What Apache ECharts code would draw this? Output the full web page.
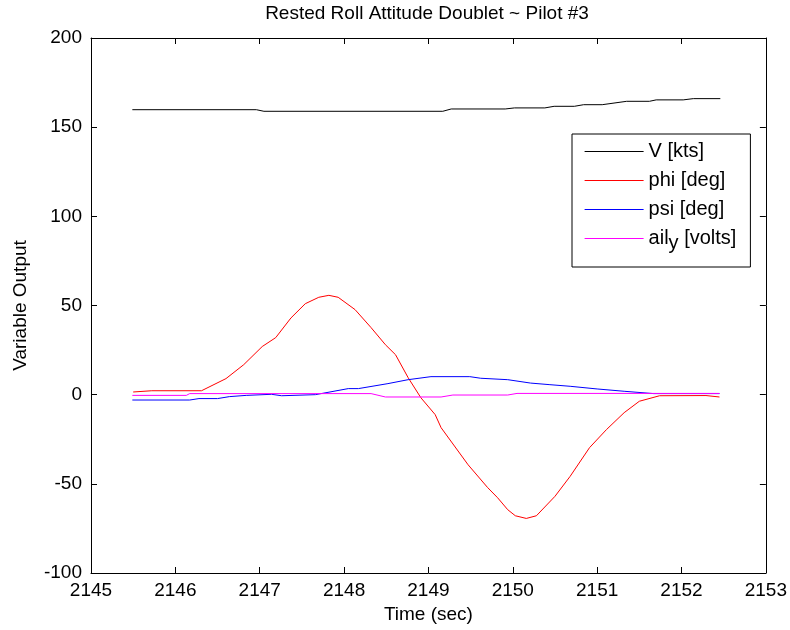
<!DOCTYPE html>
<html>
<head>
<meta charset="utf-8">
<script src="https://cdn.jsdelivr.net/npm/echarts@6/dist/echarts.min.js"></script>
<style>html,body{margin:0;padding:0;background:#fff}#c{width:790px;height:630px}</style>
</head>
<body>
<div id="c"></div>
<script>
var titleText = 'Rested Roll Attitude Doublet ~ Pilot #3';
var xName = 'Time (sec)';
var yName = 'Variable Output';
var xTicks = [2145, 2146, 2147, 2148, 2149, 2150, 2151, 2152, 2153];
var yTicks = [-100, -50, 0, 50, 100, 150, 200];
var seriesNames = ['V [kts]', 'phi [deg]', 'psi [deg]', 'ail_y [volts]'];

var vTime = [2145.49, 2146.96, 2147.05, 2149.17, 2149.27, 2149.91, 2150.02, 2150.38, 2150.49, 2150.73, 2150.84, 2151.06, 2151.35, 2151.62, 2151.70, 2152.02, 2152.14, 2152.46];
var vVal  = [159.8, 159.8, 158.9, 158.9, 160.2, 160.2, 160.8, 160.8, 161.7, 161.7, 162.6, 162.6, 164.5, 164.5, 165.3, 165.3, 166.0, 166.0];

var phiTime = [2145.50, 2145.72, 2146.31, 2146.60, 2146.81, 2147.03, 2147.19, 2147.37, 2147.54, 2147.70, 2147.82, 2147.93, 2148.13, 2148.32, 2148.49, 2148.61, 2148.76, 2148.91, 2149.08, 2149.15, 2149.47, 2149.70, 2149.82, 2149.94, 2150.03, 2150.16, 2150.28, 2150.50, 2150.68, 2150.91, 2151.11, 2151.32, 2151.50, 2151.74, 2152.29, 2152.45];
var phiVal  = [1.5, 2.2, 2.2, 9, 16.8, 27, 32, 43, 51, 54.6, 55.7, 54.6, 47.7, 37.6, 28, 22.4, 9.5, -1.7, -11.2, -18.5, -39.3, -52, -57.8, -64.5, -67.9, -69.4, -67.9, -57, -45.8, -29.7, -19.6, -10.1, -3.7, -0.6, -0.5, -1.3];

var psiTime = [2145.49, 2146.17, 2146.28, 2146.50, 2146.64, 2146.84, 2147.14, 2147.26, 2147.66, 2148.05, 2148.17, 2148.52, 2148.76, 2149.03, 2149.49, 2149.62, 2149.94, 2150.21, 2150.44, 2150.68, 2151.00, 2151.32, 2151.67, 2152.45];
var psiVal  = [-3, -3, -2.2, -2.2, -1.1, -0.4, 0.2, -0.6, 0, 3.4, 3.4, 6.2, 8.4, 10.1, 10.1, 9.2, 8.4, 6.5, 5.6, 4.7, 3.2, 1.9, 0.6, 0.6];

var ailTime = [2145.49, 2146.13, 2146.17, 2148.32, 2148.49, 2149.15, 2149.29, 2149.94, 2150.05, 2152.45];
var ailVal  = [-0.4, -0.4, 0.6, 0.6, -1.3, -1.3, -0.2, -0.2, 0.7, 0.7];

var colors = ['#000000', '#ff0000', '#0000ff', '#ff00ff'];

function zip(t, v) { return t.map(function (x, i) { return [x, v[i]]; }); }

var FONT = 'Liberation Sans, Arial, sans-serif';
var axisCommon = {
  axisLine: { show: true, onZero: false, lineStyle: { color: '#000', width: 1 } },
  axisTick: { show: true, inside: true, length: 6, lineStyle: { color: '#000' } },
  splitLine: { show: false }
};

function mkSeries(i, t, v) {
  return {
    name: seriesNames[i], type: 'line', data: zip(t, v), symbol: 'none',
    itemStyle: { color: colors[i] },
    lineStyle: { width: 1, color: colors[i] }
  };
}

var chart = echarts.init(document.getElementById('c'), null, { renderer: 'canvas' });
chart.setOption({
  animation: false,
  backgroundColor: '#fff',
  color: colors,
  title: {
    text: titleText, left: 427, top: 4, padding: 0, textAlign: 'center',
    textStyle: { fontFamily: FONT, fontSize: 19, fontWeight: 'normal', color: '#000' }
  },
  grid: { left: 91, right: 20, top: 38, bottom: 57, containLabel: false },
  legend: {
    orient: 'vertical', left: 572, top: 134,
    padding: [3, 14, 14, 12], itemGap: 0, itemWidth: 59, itemHeight: 13,
    backgroundColor: '#fff', borderColor: '#000', borderWidth: 1, borderRadius: 0,
    data: seriesNames.map(function (n, i) {
      return { name: n, itemStyle: { color: colors[i], opacity: 0, borderWidth: 0 },
               lineStyle: { width: 1.2, color: colors[i], opacity: 1 } };
    }),
    formatter: function (n) {
      if (n === 'ail_y [volts]') return '{a|ail}{s|y}{a| [volts]}';
      return n;
    },
    textStyle: {
      fontFamily: FONT, fontSize: 20, color: '#000', lineHeight: 29,
      rich: {
        a: { fontFamily: FONT, fontSize: 20, color: '#000', lineHeight: 20, verticalAlign: 'top' },
        s: { fontFamily: FONT, fontSize: 20, color: '#000', lineHeight: 20, padding: [9, 0, 0, 0] }
      }
    }
  },
  xAxis: [
    Object.assign({
      type: 'value', position: 'bottom', min: xTicks[0], max: xTicks[xTicks.length - 1], interval: 1,
      name: xName, nameLocation: 'middle', nameGap: 31,
      nameTextStyle: { fontFamily: FONT, fontSize: 19, color: '#000' },
      axisLabel: { fontFamily: FONT, fontSize: 19, color: '#000', margin: 8, showMinLabel: true, showMaxLabel: true,
        formatter: function (v) { return String(v); } }
    }, axisCommon),
    Object.assign({
      type: 'value', position: 'top', min: xTicks[0], max: xTicks[xTicks.length - 1], interval: 1,
      axisLabel: { show: false }
    }, axisCommon)
  ],
  yAxis: [
    Object.assign({
      type: 'value', position: 'left', min: yTicks[0], max: yTicks[yTicks.length - 1], interval: 50,
      name: yName, nameLocation: 'middle', nameGap: 61, nameRotate: 90,
      nameTextStyle: { fontFamily: FONT, fontSize: 19, color: '#000' },
      axisLabel: { fontFamily: FONT, fontSize: 19, color: '#000', margin: 9, showMinLabel: true, showMaxLabel: true,
        formatter: function (v) { return String(v); } }
    }, axisCommon),
    Object.assign({
      type: 'value', position: 'right', min: yTicks[0], max: yTicks[yTicks.length - 1], interval: 50,
      axisLabel: { show: false }
    }, axisCommon)
  ],
  series: [
    mkSeries(0, vTime, vVal),
    mkSeries(1, phiTime, phiVal),
    mkSeries(2, psiTime, psiVal),
    mkSeries(3, ailTime, ailVal)
  ]
});
</script>
</body>
</html>
